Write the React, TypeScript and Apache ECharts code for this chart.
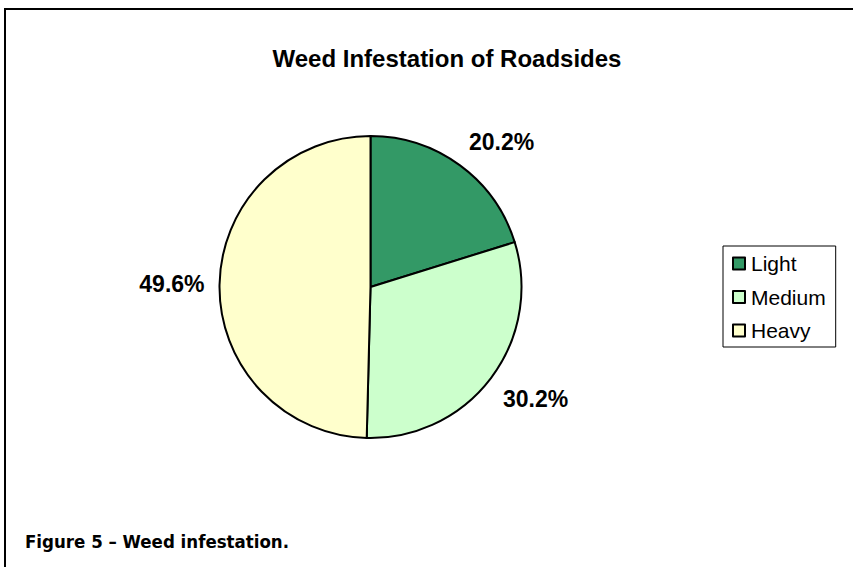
import React, { useEffect, useRef } from "react";
import * as echarts from "echarts";

const categories = ["Light", "Medium", "Heavy"];
const percents = [20.2, 30.2, 49.6];
const colors = ["#339966", "#CCFFCC", "#FFFFCC"];
const titleText = "Weed Infestation of Roadsides";
const captionText = "Figure 5 \u2013 Weed infestation.";

const W = 853;
const H = 567;
const CX = 370.5;
const CY = 287;
const RADIUS = 151;
const LABEL_GAP = 15;

export default function App() {
  const ref = useRef<HTMLDivElement>(null);
  useEffect(() => {
    if (!ref.current) return;
    const chart = echarts.init(ref.current, undefined, { renderer: "svg", width: W, height: H });
    const total = percents.reduce((s, v) => s + v, 0);
    const mids: number[] = [];
    let acc = 0;
    percents.forEach((v) => {
      mids.push(((acc + v / 2) / total) * Math.PI * 2);
      acc += v;
    });
    chart.setOption({
      animation: false,
      backgroundColor: "#ffffff",
      title: {
        text: titleText,
        left: 442,
        top: 41,
        textAlign: "center",
        textStyle: {
          fontFamily: "'Liberation Sans', Arial, sans-serif",
          fontWeight: "bold",
          fontSize: 24,
          color: "#000",
        },
      },
      legend: {
        orient: "vertical",
        left: 723,
        top: 246,
        padding: [7, 10, 6, 9],
        itemGap: 12.5,
        itemWidth: 12,
        itemHeight: 12,
        icon: "rect",
        borderColor: "#000",
        borderWidth: 1,
        data: categories,
        textStyle: {
          fontFamily: "'Liberation Sans', Arial, sans-serif",
          fontSize: 21,
          color: "#000",
          padding: [0, 0, 0, 1],
        },
      },
      graphic: [
        {
          type: "line",
          shape: { x1: 4, y1: 9, x2: W, y2: 9 },
          style: { stroke: "#000", lineWidth: 2 },
        },
        {
          type: "line",
          shape: { x1: 5, y1: 8, x2: 5, y2: H },
          style: { stroke: "#000", lineWidth: 2 },
        },
        {
          type: "text",
          x: 25,
          y: 541,
          style: {
            text: captionText,
            fontFamily: "'DejaVu Sans Condensed', 'Liberation Sans Narrow', sans-serif",
            fontWeight: "bold",
            fontSize: 18.5,
            fill: "#000",
            verticalAlign: "middle",
            align: "left",
          },
        },
      ],
      series: [
        {
          type: "pie",
          center: [CX, CY],
          radius: RADIUS,
          startAngle: 90,
          clockwise: true,
          avoidLabelOverlap: false,
          itemStyle: { borderColor: "#000", borderWidth: 2 },
          emphasis: { disabled: true },
          label: {
            show: true,
            position: "outside",
            formatter: (p: any) => `${Number(p.value).toFixed(1)}%`,
            fontFamily: "'Liberation Sans', Arial, sans-serif",
            fontWeight: "bold",
            fontSize: 23,
            color: "#000",
          },
          labelLine: { show: false },
          labelLayout: (params: any) => {
            const a = mids[params.dataIndex];
            const w = params.labelRect.width;
            const h = params.labelRect.height;
            const d = RADIUS + LABEL_GAP;
            const px = CX + d * Math.sin(a);
            const py = CY - d * Math.cos(a);
            const sx = Math.sign(Math.sin(a));
            const sy = Math.max(-1, Math.min(1, Math.cos(a) * 4));
            return {
              x: px + (sx * w) / 2,
              y: py - (sy * h) / 2,
              align: "center",
              verticalAlign: "middle",
            };
          },
          data: categories.map((name, i) => ({
            name,
            value: percents[i],
            itemStyle: { color: colors[i] },
          })),
        },
      ],
    });
    return () => chart.dispose();
  }, []);
  return (
    <div
      ref={ref}
      style={{ position: "absolute", left: 0, top: 0, width: W, height: H, background: "#fff" }}
    />
  );
}
